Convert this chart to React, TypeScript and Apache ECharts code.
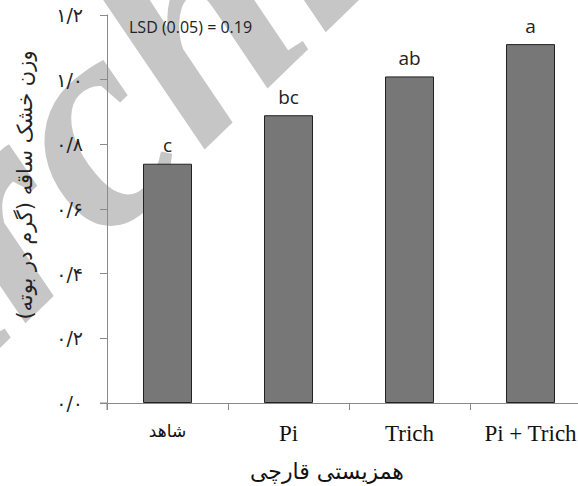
import React, { useEffect, useRef } from "react";
import * as echarts from "echarts";

const categories = ["شاهد", "Pi", "Trich", "Pi + Trich"];
const values = [0.74, 0.89, 1.01, 1.11];
const letters = ["c", "bc", "ab", "a"];
const yTickLabels = ["۰/۰", "۰/۲", "۰/۴", "۰/۶", "۰/۸", "۱/۰", "۱/۲"];
const yAxisTitle = "وزن خشک ساقه (گرم در بوته)";
const xAxisTitle = "همزیستی قارچی";
const lsdText = "LSD (0.05) = 0.19";
const watermark = "Archive";

const CHART_W = 600;

export default function App() {
  const ref = useRef<HTMLDivElement>(null);
  useEffect(() => {
    if (!ref.current) return;
    const chart = echarts.init(ref.current, null, { renderer: "svg" });
    chart.setOption({
      animation: false,
      backgroundColor: "#ffffff",
      grid: { left: 107, top: 15, bottom: 83, right: CHART_W - 591, containLabel: false },
      xAxis: {
        type: "category",
        data: categories,
        axisLine: { show: true, lineStyle: { color: "#8a8a8a", width: 1 } },
        axisTick: { show: true, length: 7, alignWithLabel: false, interval: 0, lineStyle: { color: "#8a8a8a" } },
        axisLabel: {
          interval: 0,
          hideOverlap: false,
          margin: 19,
          fontSize: 23,
          color: "#111",
          fontFamily: "'Liberation Serif', serif",
          formatter: (v: string) => (/[\u0600-\u06FF]/.test(v) ? `{ar|${v}}` : v),
          rich: {
            ar: { fontSize: 17, fontFamily: "'DejaVu Sans', sans-serif", color: "#111" },
          },
        },
      },
      yAxis: {
        type: "value",
        min: 0,
        max: 1.2,
        interval: 0.2,
        splitLine: { show: false },
        axisLine: { show: true, lineStyle: { color: "#8a8a8a", width: 1 } },
        axisTick: { show: true, length: 7, lineStyle: { color: "#8a8a8a" } },
        axisLabel: {
          margin: 24,
          fontSize: 19,
          color: "#222",
          fontFamily: "'DejaVu Sans', sans-serif",
          formatter: (v: number) => yTickLabels[Math.round(v / 0.2)] ?? "",
        },
      },
      series: [
        {
          type: "bar",
          data: values,
          barWidth: 49,
          z: 3,
          itemStyle: { color: "#777777", borderColor: "#222222", borderWidth: 1 },
          label: {
            show: true,
            position: "top",
            distance: 9,
            fontSize: 19,
            color: "#222",
            fontFamily: "'Open Sans', sans-serif",
            formatter: (p: any) => letters[p.dataIndex],
          },
        },
      ],
      graphic: [
        {
          type: "text",
          z: 0,
          x: 154,
          y: 58,
          rotation: 0.77,
          style: {
            text: watermark,
            font: "italic bold 300px 'Liberation Serif'",
            fill: "#c6c6c6",
            textAlign: "center",
            textVerticalAlign: "middle",
          },
        },
        {
          type: "text",
          z: 5,
          left: 129,
          top: 19,
          style: {
            text: lsdText,
            fontSize: 16,
            fill: "#222",
            fontFamily: "'Open Sans', sans-serif",
          },
        },
        {
          type: "text",
          z: 5,
          x: 25,
          y: 185,
          rotation: Math.PI / 2,
          style: {
            text: yAxisTitle,
            fontSize: 21,
            fill: "#222",
            fontFamily: "'DejaVu Sans', sans-serif",
            textAlign: "center",
            textVerticalAlign: "middle",
          },
        },
        {
          type: "text",
          z: 5,
          x: 327,
          y: 471,
          style: {
            text: xAxisTitle,
            fontSize: 22,
            fill: "#111",
            fontFamily: "'DejaVu Sans', sans-serif",
            textAlign: "center",
            textVerticalAlign: "middle",
          },
        },
        {
          type: "line",
          z: 5,
          shape: { x1: 100, y1: 403, x2: 107, y2: 403 },
          style: { stroke: "#8a8a8a", lineWidth: 1 },
        },
        {
          type: "line",
          z: 5,
          shape: { x1: 107, y1: 403, x2: 107, y2: 410 },
          style: { stroke: "#8a8a8a", lineWidth: 1 },
        },
      ],
    });
    return () => chart.dispose();
  }, []);
  return (
    <div style={{ position: "fixed", left: 0, top: 0, width: 578, height: 486, overflow: "hidden" }}>
      <div ref={ref} style={{ width: CHART_W, height: 486 }} />
    </div>
  );
}
